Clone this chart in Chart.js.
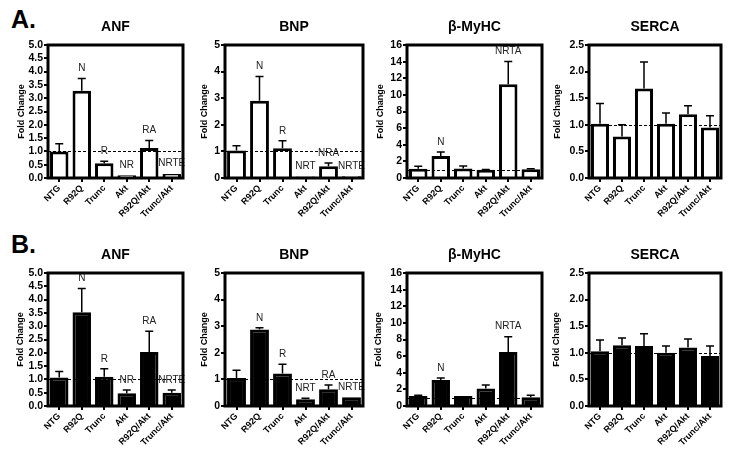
<!DOCTYPE html>
<html>
<head>
<meta charset="utf-8">
<script src="https://cdn.jsdelivr.net/npm/chart.js@4.4.1/dist/chart.umd.min.js"></script>
<style>
body { margin: 0; background: #fff; width: 729px; height: 455px; position: relative; overflow: hidden; font-family: "Liberation Sans", Arial, sans-serif; }
canvas { position: absolute; }
.panel { position: absolute; font-weight: bold; font-size: 25px; line-height: 25px; }
</style>
</head>
<body>
<div class="panel" style="left:11px;top:7px">A.</div>
<div class="panel" style="left:11px;top:232px">B.</div>
<script>
// grupos y genes
const grupos = ["NTG", "R92Q", "Trunc", "Akt", "R92Q/Akt", "Trunc/Akt"];
const genes = ["ANF", "BNP", "β-MyHC", "SERCA"];

// ejes Y por gen
const ejeMax = [5, 5, 16, 2.5];
const ejePaso = [0.5, 1, 2, 0.5];
const ejeDecimales = [1, 0, 0, 1];

// A. barras blancas
const anfA = [1.0, 3.28, 0.55, 0.1, 1.13, 0.15];
const anfAErr = [0.29, 0.46, 0.08, 0.01, 0.28, 0.02];
const bnpA = [1.03, 2.9, 1.12, 0.06, 0.44, 0.07];
const bnpAErr = [0.18, 0.92, 0.28, 0.01, 0.12, 0.01];
const myhcA = [1.12, 2.65, 1.15, 1.0, 11.28, 1.06];
const myhcAErr = [0.3, 0.48, 0.28, 0.03, 2.75, 0.05];
const sercaA = [1.02, 0.78, 1.68, 1.02, 1.2, 0.95];
const sercaAErr = [0.38, 0.22, 0.5, 0.2, 0.16, 0.22];

// B. barras negras
const anfB = [1.07, 3.52, 1.1, 0.48, 2.03, 0.5];
const anfBErr = [0.23, 0.9, 0.3, 0.12, 0.78, 0.1];
const bnpB = [1.05, 2.88, 1.22, 0.25, 0.63, 0.33];
const bnpBErr = [0.29, 0.06, 0.35, 0.04, 0.16, 0.01];
const myhcB = [1.2, 3.13, 1.2, 2.12, 6.5, 1.04];
const myhcBErr = [0.08, 0.24, 0.02, 0.41, 1.84, 0.24];
const sercaB = [1.03, 1.14, 1.13, 1.0, 1.1, 0.94];
const sercaBErr = [0.21, 0.14, 0.23, 0.13, 0.16, 0.19];

// letras de significancia
const letrasANF = ["", "N", "R", "NR", "RA", "NRTE"];
const letrasBNPA = ["", "N", "R", "NRT", "NRA", "NRTE"];
const letrasBNPB = ["", "N", "R", "NRT", "RA", "NRTE"];
const letrasMyHC = ["", "N", "", "", "NRTA", ""];
const letrasSERCA = ["", "", "", "", "", ""];

const paneles = [
    { fila: 0, gen: 0, v: anfA, err: anfAErr, letras: letrasANF },
    { fila: 0, gen: 1, v: bnpA, err: bnpAErr, letras: letrasBNPA },
    { fila: 0, gen: 2, v: myhcA, err: myhcAErr, letras: letrasMyHC },
    { fila: 0, gen: 3, v: sercaA, err: sercaAErr, letras: letrasSERCA },
    { fila: 1, gen: 0, v: anfB, err: anfBErr, letras: letrasANF },
    { fila: 1, gen: 1, v: bnpB, err: bnpBErr, letras: letrasBNPB },
    { fila: 1, gen: 2, v: myhcB, err: myhcBErr, letras: letrasMyHC },
    { fila: 1, gen: 3, v: sercaB, err: sercaBErr, letras: letrasSERCA }
];

// geometria de las areas de dibujo
const colX = [[48, 183], [225, 363], [407, 542], [589, 721]];
const filaY = [[45, 178], [273, 406]];
const tituloEje = [[26, 20, 26, 31], [27, 20, 28, 32]];
const IZQ = 48, ARR = 45, DER = 6, ABA = 50;
const fuente = '"Liberation Sans", Arial, sans-serif';

// marco, linea a 1.0, barras de error y letras
const extras = {
    id: 'extras',
    afterDatasetsDraw(chart, args, opts) {
        const { ctx, chartArea: a, scales: { y } } = chart;
        const meta = chart.getDatasetMeta(0);
        const datos = chart.data.datasets[0].data;
        ctx.save();
        ctx.strokeStyle = '#000';
        ctx.lineWidth = 1;
        ctx.setLineDash([3, 2]);
        const y1 = Math.round(y.getPixelForValue(1)) + 0.5;
        ctx.beginPath();
        ctx.moveTo(a.left, y1);
        ctx.lineTo(a.right, y1);
        ctx.stroke();
        ctx.setLineDash([]);

        ctx.lineWidth = 1.5;
        ctx.fillStyle = '#222';
        ctx.font = '10px "Liberation Sans Narrow", ' + fuente;
        ctx.textAlign = 'center';
        ctx.textBaseline = 'middle';
        meta.data.forEach((bar, i) => {
            const tope = y.getPixelForValue(datos[i] + opts.err[i]);
            if (opts.err[i] > 0.02) {
                ctx.beginPath();
                ctx.moveTo(bar.x, bar.y);
                ctx.lineTo(bar.x, tope);
                ctx.moveTo(bar.x - 4, tope);
                ctx.lineTo(bar.x + 4, tope);
                ctx.stroke();
            }
            if (opts.letras[i]) ctx.fillText(opts.letras[i], bar.x, tope - 10);
        });

        ctx.lineWidth = 3;
        ctx.strokeRect(a.left, a.top, a.right - a.left, a.bottom - a.top);

        ctx.fillStyle = '#000';
        ctx.font = 'bold 14px ' + fuente;
        ctx.fillText(opts.titulo, (a.left + a.right) / 2, a.top - 18);
        ctx.restore();
    }
};

paneles.forEach(p => {
    const [x0, x1] = colX[p.gen];
    const [y0, y1] = filaY[p.fila];
    const cv = document.createElement('canvas');
    cv.width = (x1 - x0) + IZQ + DER;
    cv.height = (y1 - y0) + ARR + ABA;
    cv.style.left = (x0 - IZQ) + 'px';
    cv.style.top = (y0 - ARR) + 'px';
    document.body.appendChild(cv);

    const negro = p.fila === 1;
    const dec = ejeDecimales[p.gen];
    new Chart(cv.getContext('2d'), {
        type: 'bar',
        data: {
            labels: grupos,
            datasets: [{
                data: p.v,
                backgroundColor: negro ? '#000' : '#fff',
                borderColor: '#000',
                borderWidth: 3,
                barPercentage: 0.82,
                categoryPercentage: 1
            }]
        },
        options: {
            responsive: false,
            animation: false,
            devicePixelRatio: 1,
            layout: { padding: { left: 0, top: ARR, right: DER, bottom: 0 } },
            plugins: {
                legend: { display: false },
                tooltip: { enabled: false },
                extras: { err: p.err, letras: p.letras, titulo: genes[p.gen] }
            },
            scales: {
                x: {
                    offset: true,
                    grid: { drawOnChartArea: false, offset: false, tickLength: 4, lineWidth: 2, color: '#000' },
                    border: { display: false },
                    ticks: {
                        autoSkip: false, minRotation: 45, maxRotation: 45, padding: 1,
                        color: '#000', font: { family: fuente, size: 9, weight: 'bold' }
                    },
                    afterFit(s) { s.height = ABA; }
                },
                y: {
                    min: 0,
                    max: ejeMax[p.gen],
                    grid: { drawOnChartArea: false, tickLength: 4, lineWidth: 2, color: '#000' },
                    border: { display: false },
                    ticks: {
                        autoSkip: false,
                        stepSize: ejePaso[p.gen], padding: 1, color: '#000',
                        font: { family: fuente, size: 10.5, weight: 'bold' },
                        callback: v => v.toFixed(dec)
                    },
                    title: {
                        display: true, text: 'Fold Change', color: '#000',
                        font: { family: fuente, size: 9, weight: 'bold' },
                        padding: { top: IZQ - tituloEje[p.fila][p.gen] - 5.4, bottom: 0 }
                    },
                    afterFit(s) { s.width = IZQ; }
                }
            }
        },
        plugins: [extras]
    });
});
</script>
</body>
</html>
